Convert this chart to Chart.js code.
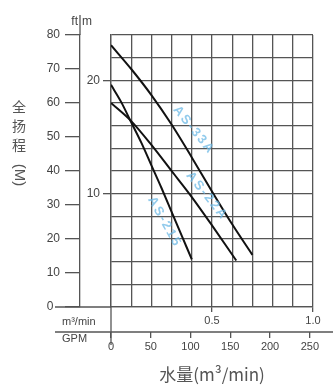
<!DOCTYPE html>
<html>
<head>
<meta charset="utf-8">
<script src="https://cdn.jsdelivr.net/npm/chart.js@4"></script>
<style>
  body { margin: 0; background: #fff; }
</style>
</head>
<body>
<canvas id="pump-chart" width="333" height="385"></canvas>
<script>
// flow in m3/min, total head in m
const flowAS33A = [0, 0.1, 0.2, 0.3, 0.4, 0.5, 0.6, 0.7];
const headAS33A = [23.1, 21.0, 18.7, 16.1, 13.2, 10.2, 7.3, 4.6];
const flowAS22A = [0, 0.1, 0.2, 0.3, 0.4, 0.5, 0.62];
const headAS22A = [18.0, 16.4, 14.3, 12.0, 9.7, 7.2, 4.1];
const flowAS215 = [0, 0.05, 0.1, 0.15, 0.2, 0.25, 0.3, 0.35, 0.4];
const headAS215 = [19.6, 18.1, 16.3, 14.5, 12.5, 10.5, 8.4, 6.3, 4.2];
const seriesNames = ["AS-33A", "AS-22A", "AS-215"];

// tick labels
const flowLabels = ["0.5", "1.0"];
const headLabels = [10, 20];
const gpmLabels = [0, 50, 100, 150, 200, 250];

const gridColor = "#555";
const textColor = "#444";
const latin = "'Liberation Sans', Arial, sans-serif";
const cjk = "'Noto Sans CJK SC', sans-serif";

function points(xs, ys) {
  return xs.map((x, i) => ({ x: x, y: ys[i] }));
}

function flowLabel(v) {
  const hit = flowLabels.find(l => Math.abs(parseFloat(l) - v) < 1e-6);
  return hit || "";
}

function curve(name, xs, ys) {
  return {
    label: name,
    data: points(xs, ys),
    borderColor: "#111",
    borderWidth: 2,
    pointRadius: 0,
    fill: false,
    cubicInterpolationMode: "monotone",
    xAxisID: "x",
    yAxisID: "y"
  };
}

// extra lines, unit labels, vertical title and curve names
const decorations = {
  id: "decorations",
  afterDraw(chart) {
    const ctx = chart.ctx;
    const area = chart.chartArea;
    const ft = chart.scales.ft;
    const gpm = chart.scales.gpm;
    const x = chart.scales.x;
    const y = chart.scales.y;

    ctx.save();
    ctx.strokeStyle = gridColor;
    ctx.lineWidth = 1.3;
    const line = (x1, y1, x2, y2) => {
      ctx.beginPath();
      ctx.moveTo(x1, y1);
      ctx.lineTo(x2, y2);
      ctx.stroke();
    };
    line(ft.right, area.top, ft.right, 15);
    line(55, area.bottom, area.left, area.bottom);
    line(55, gpm.top, chart.width, gpm.top);
    line(area.left, area.bottom, area.left, gpm.top + 13);

    ctx.fillStyle = textColor;
    ctx.font = "11px " + latin;
    ctx.textBaseline = "middle";
    ctx.textAlign = "left";
    ctx.fillText("m³/min", 62, area.bottom + 15);
    ctx.fillText("GPM", 62, gpm.top + 7);
    ctx.font = "12px " + latin;
    ctx.textAlign = "right";
    ctx.fillText("ft", ft.right - 2, 22);
    ctx.textAlign = "left";
    ctx.fillText("m", ft.right + 2, 22);

    // vertical axis title
    ctx.font = "14px " + cjk;
    ctx.fillStyle = "#555";
    ctx.textAlign = "center";
    ["全", "扬", "程"].forEach((ch, i) => ctx.fillText(ch, 19, 107 + i * 19));
    ctx.save();
    ctx.translate(19, 175);
    ctx.rotate(Math.PI / 2);
    ctx.font = "15px " + latin;
    ctx.fillText("(M)", 0, 0);
    ctx.restore();

    // curve names, faint blue along each curve
    const spots = [[0.41, 15.6, 51], [0.475, 9.8, 51], [0.265, 7.5, 61]];
    ctx.font = "bold 13px " + latin;
    ctx.fillStyle = "rgba(110,185,230,0.75)";
    ctx.letterSpacing = "2px";
    seriesNames.forEach((name, i) => {
      const s = spots[i];
      ctx.save();
      ctx.translate(x.getPixelForValue(s[0]), y.getPixelForValue(s[1]));
      ctx.rotate(s[2] * Math.PI / 180);
      ctx.fillText(name, 0, 0);
      ctx.restore();
    });
    ctx.restore();
  }
};

const chart = new Chart(document.getElementById("pump-chart"), {
  type: "line",
  data: {
    datasets: [
      curve(seriesNames[0], flowAS33A, headAS33A),
      curve(seriesNames[1], flowAS22A, headAS22A),
      curve(seriesNames[2], flowAS215, headAS215)
    ]
  },
  options: {
    responsive: false,
    animation: false,
    layout: { padding: { top: 35, right: 20, left: 0, bottom: 0 } },
    plugins: { legend: { display: false }, tooltip: { enabled: false } },
    scales: {
      x: {
        type: "linear",
        position: "bottom",
        min: 0,
        max: 1,
        afterFit: s => { s.height = 25; },
        grid: {
          color: gridColor,
          lineWidth: 1.3,
          tickLength: 5,
          tickColor: c => (c.tick && flowLabel(c.tick.value) ? gridColor : "transparent")
        },
        border: { color: gridColor, width: 1.3 },
        ticks: {
          stepSize: 0.1,
          autoSkip: false,
          maxRotation: 0,
          padding: 2,
          color: textColor,
          font: { size: 11, family: latin },
          callback: v => flowLabel(v)
        }
      },
      gpm: {
        type: "linear",
        position: "bottom",
        min: 0,
        max: 254,
        afterFit: s => { s.height = 53; },
        grid: { drawOnChartArea: false, tickLength: 6, color: gridColor, lineWidth: 1.3 },
        border: { display: false },
        ticks: {
          stepSize: 50,
          includeBounds: false,
          autoSkip: false,
          maxRotation: 0,
          padding: 2,
          color: textColor,
          font: { size: 11, family: latin },
          callback: v => (gpmLabels.includes(v) ? String(v) : "")
        },
        title: {
          display: true,
          text: "水量(m³/min)",
          color: "#555",
          font: { size: 17, family: cjk },
          padding: { top: 0, bottom: 0 }
        }
      },
      y: {
        type: "linear",
        position: "left",
        min: 0,
        max: 24,
        afterFit: s => { s.width = 31; },
        grid: {
          color: gridColor,
          lineWidth: 1.3,
          tickLength: 8,
          tickColor: c => (c.tick && headLabels.includes(c.tick.value) ? gridColor : "transparent")
        },
        border: { color: gridColor, width: 1.3 },
        ticks: {
          stepSize: 2,
          autoSkip: false,
          padding: 3,
          color: textColor,
          font: { size: 12, family: latin },
          callback: v => (headLabels.includes(v) ? String(v) : "")
        }
      },
      ft: {
        type: "linear",
        position: "left",
        min: 0,
        max: 80,
        afterFit: s => { s.width = 80; },
        grid: { drawOnChartArea: false, tickLength: 15, color: gridColor, lineWidth: 1.3 },
        border: { color: gridColor, width: 1.3 },
        ticks: {
          stepSize: 10,
          autoSkip: false,
          padding: 5,
          color: textColor,
          font: { size: 12, family: latin },
          // the zero label sits left of the long base line
          callback: v => (v === 0 ? "0  " : String(v))
        }
      }
    }
  },
  plugins: [decorations]
});
</script>
</body>
</html>
